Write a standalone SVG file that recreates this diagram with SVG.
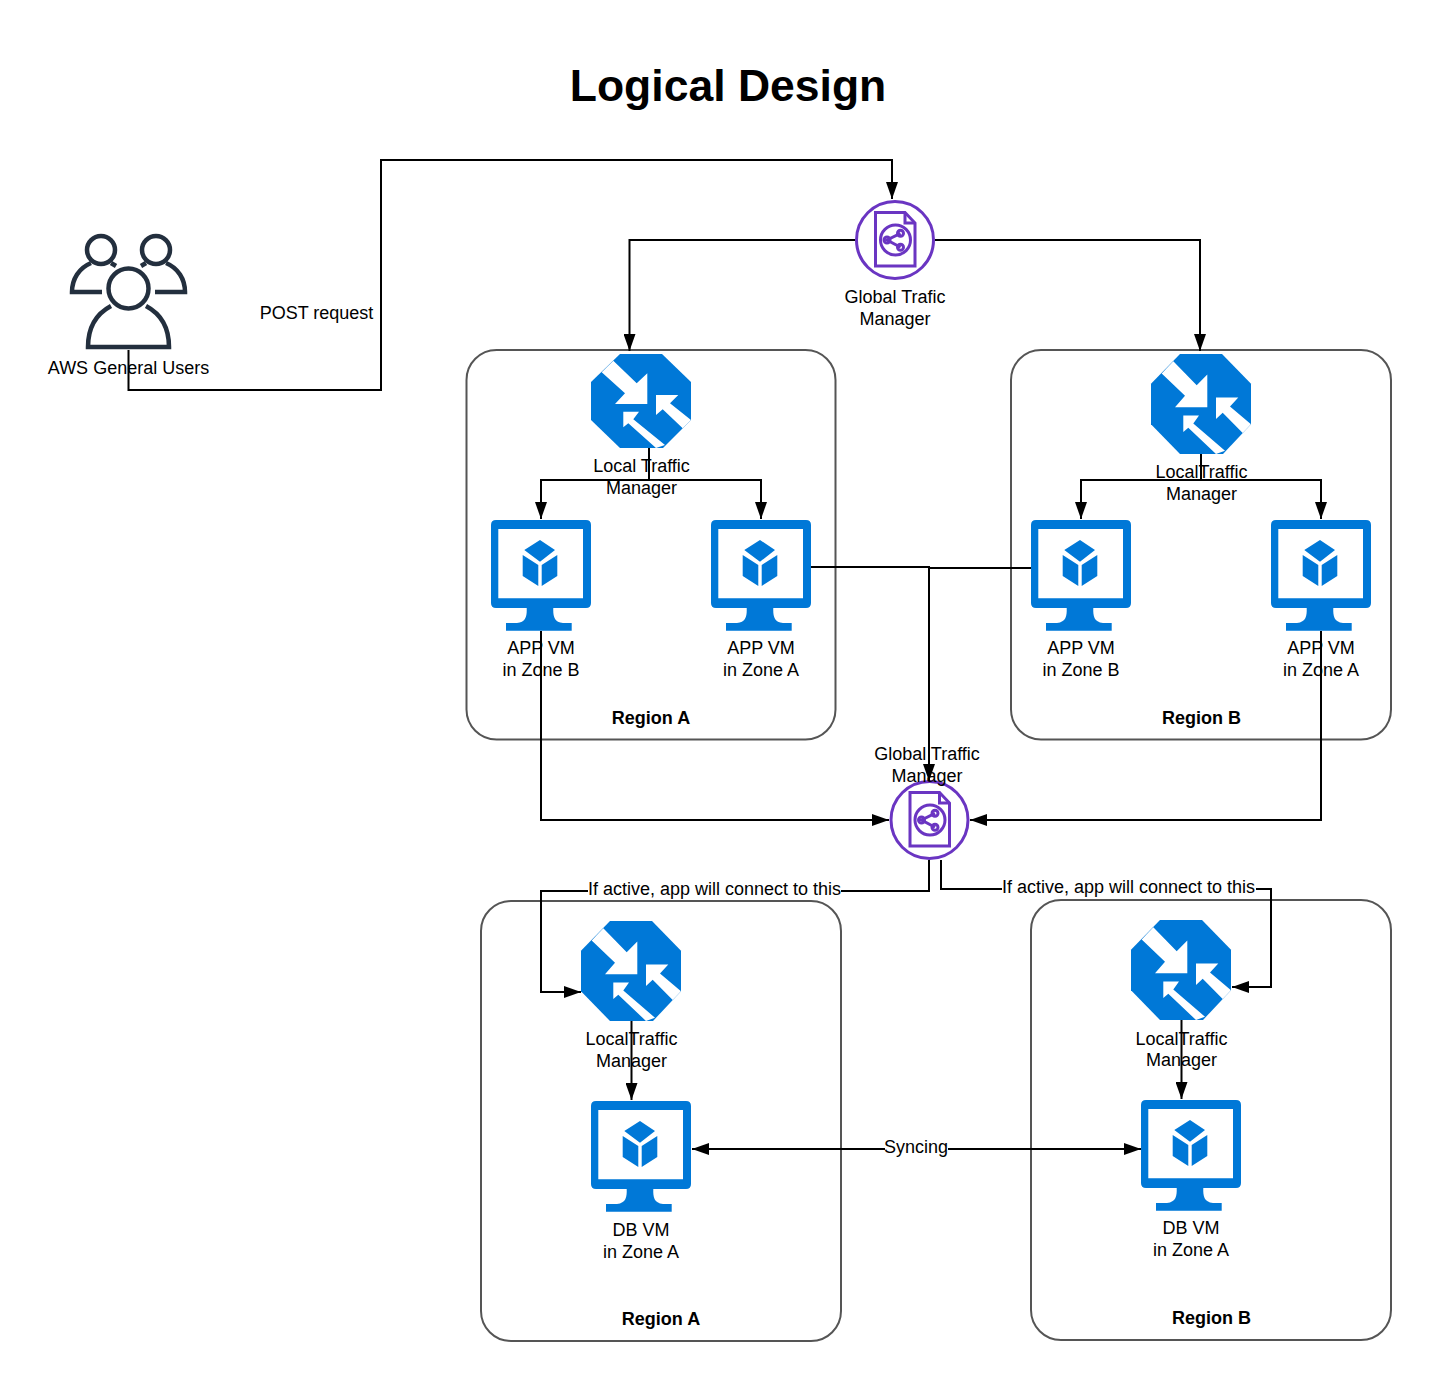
<svg xmlns="http://www.w3.org/2000/svg" width="1441" height="1382" viewBox="0 0 1441 1382">
<style>
text{font-family:"Liberation Sans",Arial,sans-serif;font-size:18px;fill:#000;text-anchor:middle}
.b{font-weight:bold}
.t{font-size:44.500px;font-weight:bold}
.region{fill:none;stroke:#555;stroke-width:2}
.c{fill:none;stroke:#000;stroke-width:2}
.a{marker-end:url(#arrow)}
.u{fill:none;stroke:#232f3e;stroke-width:4.500}
.g{fill:none;stroke:#6a35c2;stroke-width:3}
.az{fill:#0078d7}
.w{fill:#fff}
</style>
<defs>
<marker id="arrow" markerUnits="userSpaceOnUse" markerWidth="18" markerHeight="12" refX="17" refY="6" orient="auto-start-reverse">
<path d="M0,0L17,6L0,12Z" fill="#000"/>
</marker>
<g id="ltm">
<path class="az" d="M29,0H71L100,28V66L72,94H29L0,66V28Z"/>
<path class="w" d="M22.300,6.700L45.700,29.300L56.300,19.300V50H24L34,39.300L10.700,18.300Z"/>
<path class="w" d="M32.300,57.700H48L42.300,65.300L74,91L65,94L37.300,69.300L32.300,73.300Z"/>
<path class="w" d="M65,41H87.300L79,49.300L100,66L91.700,74.300L71.700,55.300L65,61Z"/>
</g>
<g id="vm">
<path class="az" fill-rule="evenodd" d="M5,0H95Q100,0 100,5V83Q100,88 95,88H62.300C62,96 63,102 72,103H80.700V110.700H15V103H26C35,102 36,96 35.700,88H5Q0,88 0,83V5Q0,0 5,0ZM7.300,9V78.300H92V9Z"/>
<path class="az" d="M49,20L64,30L49,41.700L33.300,30ZM31.700,35L47.300,45V66L31.700,56ZM66.300,35L50.700,45V66L66.300,56Z"/>
</g>
<g id="gtm">
<circle cx="0" cy="0" r="38.500" fill="#fff" class="g"/>
<path class="g" d="M-19.500,-27.500H10L20,-17V26H-19.500Z"/>
<path class="g" stroke-width="2" d="M10,-27V-17H20"/>
<circle cx="0.500" cy="0" r="15" class="g"/>
<path class="g" stroke-width="2.500" d="M5.500,-6.700L-8,0L5.500,7.300"/>
<circle cx="-8" cy="0" r="3" class="g" stroke-width="2.500"/>
<circle cx="5.500" cy="-6.700" r="3" class="g" stroke-width="2.500"/>
<circle cx="5.500" cy="7.300" r="3" class="g" stroke-width="2.500"/>
</g>
</defs>

<rect width="1441" height="1382" fill="#fff"/>
<text id="title" class="t" x="728" y="101">Logical Design</text>

<g id="region-a-top"><rect class="region" x="466.500" y="350" width="369" height="389.500" rx="30"/><text class="b" x="651" y="723.500">Region A</text></g>
<g id="region-b-top"><rect class="region" x="1011" y="350" width="380" height="389.500" rx="30"/><text class="b" x="1201.500" y="723.500">Region B</text></g>
<g id="region-a-bottom"><rect class="region" x="481" y="901" width="360" height="440" rx="30"/><text class="b" x="661" y="1324.500">Region A</text></g>
<g id="region-b-bottom"><rect class="region" x="1031" y="900" width="360" height="440" rx="30"/><text class="b" x="1211.500" y="1323.500">Region B</text></g>

<g id="users">
<circle class="u" cx="128.500" cy="288.500" r="20"/>
<path class="u" d="M111,306C96,314 88,328 88,347H169C169,328 161,314 146,306"/>
<circle class="u" cx="101" cy="250" r="14"/>
<path class="u" d="M91,263C79,268 72,279 72,292H102"/>
<path class="u" d="M111,263L116,266"/>
<circle class="u" cx="156" cy="250" r="14"/>
<path class="u" d="M166,263C178,268 185,279 185,292H155"/>
<path class="u" d="M146,263L141,266"/>
<text x="128.500" y="373.500">AWS General Users</text>
</g>

<text id="post-label" x="316.500" y="318.500">POST request</text>

<g id="gtm-top"><use href="#gtm" x="895" y="240"/><text x="895" y="302.500">Global Trafic</text><text x="895" y="324.500">Manager</text></g>

<g id="ltm-a-top"><use href="#ltm" x="591" y="354"/><text x="641.500" y="471.500">Local Traffic</text><text x="641.500" y="493.500">Manager</text></g>
<g id="ltm-b-top"><use href="#ltm" transform="translate(1151 354) scale(1 1.064)"/><text x="1201.500" y="477.500">LocalTraffic</text><text x="1201.500" y="499.500">Manager</text></g>

<g id="vm-a-b"><use href="#vm" x="491" y="520"/><text x="541" y="653.500">APP VM</text><text x="541" y="675.500">in Zone B</text></g>
<g id="vm-a-a"><use href="#vm" x="711" y="520"/><text x="761" y="653.500">APP VM</text><text x="761" y="675.500">in Zone A</text></g>
<g id="vm-b-b"><use href="#vm" x="1031" y="520"/><text x="1081" y="653.500">APP VM</text><text x="1081" y="675.500">in Zone B</text></g>
<g id="vm-b-a"><use href="#vm" x="1271" y="520"/><text x="1321" y="653.500">APP VM</text><text x="1321" y="675.500">in Zone A</text></g>

<g id="gtm-mid"><use href="#gtm" x="929.500" y="820"/><text x="927" y="759.500">Global Traffic</text><text x="927" y="781.500">Manager</text></g>

<g id="ltm-a-bottom"><use href="#ltm" transform="translate(581 921) scale(1 1.064)"/><text x="631.500" y="1044.500">LocalTraffic</text><text x="631.500" y="1066.500">Manager</text></g>
<g id="ltm-b-bottom"><use href="#ltm" transform="translate(1131 920) scale(1 1.064)"/><text x="1181.500" y="1044.500">LocalTraffic</text><text x="1181.500" y="1065.500">Manager</text></g>

<g id="vm-db-a"><use href="#vm" x="591" y="1101"/><text x="641" y="1235.500">DB VM</text><text x="641" y="1257.500">in Zone A</text></g>
<g id="vm-db-b"><use href="#vm" x="1141" y="1100"/><text x="1191" y="1233.500">DB VM</text><text x="1191" y="1255.500">in Zone A</text></g>

<g id="connectors">
<path class="c a" d="M128.500,350V390H381V160H892V199"/>
<path class="c a" d="M855,240H629.500V351"/>
<path class="c a" d="M935,240H1200V351"/>
<path class="c" d="M649,448V480"/>
<path class="c a" d="M649,480H541V519"/>
<path class="c a" d="M649,480H761V519"/>
<path class="c" d="M1201,454V480"/>
<path class="c a" d="M1201,480H1081V519"/>
<path class="c a" d="M1201,480H1321V519"/>
<path class="c a" d="M811,567H929V781"/>
<path class="c" d="M1031,568H929"/>
<path class="c a" d="M541,631V820H889"/>
<path class="c a" d="M1321,631V820H970"/>
<path class="c a" d="M929,860V891H541V992H581"/>
<path class="c a" d="M941,860V889H1271V987H1232"/>
<path class="c a" d="M631.500,1021V1100"/>
<path class="c a" d="M1181.500,1020V1099"/>
<path class="c a" style="marker-start:url(#arrow)" d="M692,1149H1141"/>
<rect x="588" y="879" width="253" height="20" fill="#fff"/>
<text x="714.500" y="894.500">If active, app will connect to this</text>
<rect x="1002" y="877" width="254" height="20" fill="#fff"/>
<text x="1128.500" y="892.500">If active, app will connect to this</text>
<rect x="885" y="1137" width="63" height="20" fill="#fff"/>
<text x="916" y="1152.500">Syncing</text>
</g>
</svg>
